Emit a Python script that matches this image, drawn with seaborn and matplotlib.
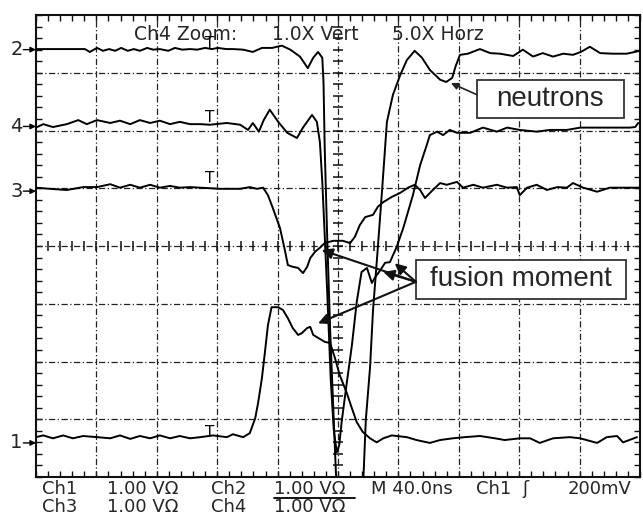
import numpy as np
import pandas as pd
import matplotlib
matplotlib.use("Agg")
import matplotlib.pyplot as plt
import seaborn as sns
from matplotlib.patches import Rectangle

# ---------------- data (screen divisions: x 0..10, y -4..4) ----------------
ch2_x = [0, 0.40, 0.81, 0.89, 1.01, 1.11, 1.21, 1.31, 1.41, 1.52, 1.62, 1.72, 1.84, 1.94, 2.05,
         2.19, 2.30, 2.42, 2.55, 2.67, 2.80, 2.91, 3.01, 3.15, 3.26, 3.43, 3.59, 3.74, 3.91, 4.07,
         4.21, 4.37, 4.50, 4.59, 4.67, 4.74, 4.76, 4.78, 4.82, 4.87, 4.93, 4.98, 5.20, 5.41, 5.46,
         5.53, 5.58, 5.65, 5.73, 5.81, 5.91, 6.03, 6.14, 6.27, 6.39, 6.52, 6.69, 6.79, 6.89, 6.95,
         7.02, 7.15, 7.35, 7.52, 7.68, 7.90, 8.06, 8.23, 8.39, 8.56, 8.73, 8.89, 9.02, 9.17, 9.34,
         9.55, 9.78, 10.0]
ch2_y = [3.41, 3.41, 3.41, 3.36, 3.43, 3.38, 3.41, 3.38, 3.43, 3.38, 3.41, 3.38, 3.43, 3.40, 3.41,
         3.38, 3.43, 3.40, 3.41, 3.40, 3.43, 3.41, 3.43, 3.41, 3.41, 3.40, 3.36, 3.43, 3.43, 3.47,
         3.40, 3.28, 3.08, 3.26, 3.36, 3.26, 2.84, 1.70, 0.19, -1.46, -3.02, -4.3, -4.3, -4.3, -3.02,
         -2.11, -1.11, -0.16, 0.97, 2.15, 2.62, 2.96, 3.22, 3.38, 3.26, 3.05, 2.88, 2.84, 2.91, 3.12,
         3.31, 3.33, 3.41, 3.34, 3.33, 3.29, 3.40, 3.28, 3.34, 3.28, 3.33, 3.31, 3.36, 3.45, 3.34,
         3.33, 3.33, 3.38]

ch4_x = [0, 0.12, 0.28, 0.51, 0.70, 0.84, 1.01, 1.23, 1.39, 1.56, 1.72, 1.89, 2.05, 2.22, 2.38,
         2.55, 2.72, 2.88, 3.16, 3.38, 3.51, 3.59, 3.69, 3.77, 3.87, 4.01, 4.16, 4.32, 4.42, 4.57,
         4.65, 4.70, 4.74, 4.77, 4.82, 4.88, 4.93, 4.98, 5.02, 5.06, 5.14, 5.23, 5.31, 5.39, 5.48,
         5.56, 5.61, 5.70, 5.78, 5.86, 5.91, 5.97, 6.08, 6.24, 6.36, 6.47, 6.52, 6.64, 6.74, 6.85,
         6.97, 7.19, 7.40, 7.63, 7.80, 8.01, 8.29, 8.51, 8.79, 9.01, 9.34, 9.55, 9.83, 9.92, 9.97]
ch4_y = [2.05, 2.11, 2.06, 2.11, 2.18, 2.11, 2.18, 2.13, 2.17, 2.11, 2.18, 2.13, 2.17, 2.11, 2.15,
         2.11, 2.11, 2.10, 2.13, 2.10, 2.01, 2.13, 1.98, 2.18, 2.36, 2.15, 1.96, 1.87, 2.05, 2.27,
         2.15, 1.80, 1.11, 0.42, -0.76, -2.32, -3.19, -3.57, -3.45, -3.05, -2.41, -1.72, -0.97, -0.45, -0.38,
         -0.64, -0.55, -0.42, -0.29, -0.28, -0.16, -0.02, 0.31, 0.88, 1.40, 1.75, 1.92, 1.98, 1.92, 2.01,
         1.96, 1.96, 2.05, 1.98, 2.05, 2.01, 1.98, 2.01, 2.01, 2.05, 2.05, 2.05, 2.05, 2.06, 2.13]

ch3_x = [0, 0.23, 0.51, 0.78, 1.01, 1.23, 1.39, 1.56, 1.72, 1.89, 2.05, 2.22, 2.38, 2.55, 2.72,
         3.05, 3.38, 3.54, 3.66, 3.76, 3.84, 3.92, 4.04, 4.12, 4.17, 4.25, 4.34, 4.42, 4.49, 4.54,
         4.62, 4.70, 4.78, 4.92, 5.08, 5.20, 5.28, 5.36, 5.45, 5.58, 5.66, 5.75, 5.89, 6.03, 6.16,
         6.27, 6.36, 6.44, 6.57, 6.69, 6.80, 6.97, 7.07, 7.24, 7.40, 7.63, 7.80, 7.96, 8.01, 8.13,
         8.29, 8.46, 8.63, 8.79, 8.89, 9.06, 9.29, 9.50, 9.72, 10.0]
ch3_y = [1.01, 0.99, 0.97, 1.02, 1.02, 1.07, 1.01, 1.06, 1.01, 1.06, 1.01, 1.04, 1.01, 1.02, 1.01,
         0.99, 0.99, 1.02, 0.99, 1.01, 0.88, 0.66, 0.31, -0.07, -0.33, -0.36, -0.38, -0.47, -0.36, -0.21,
         -0.10, -0.03, 0.05, 0.09, 0.09, 0.05, 0.16, 0.36, 0.50, 0.54, 0.68, 0.76, 0.85, 0.92, 1.01,
         1.06, 0.97, 0.83, 0.97, 1.09, 1.06, 1.11, 1.01, 1.06, 1.01, 1.06, 1.01, 1.02, 0.88, 1.01,
         1.06, 0.97, 1.02, 1.01, 1.09, 1.01, 0.94, 1.01, 1.01, 1.01]

ch1_x = [0, 0.12, 0.28, 0.45, 0.61, 0.78, 1.01, 1.23, 1.39, 1.56, 1.72, 1.89, 2.05, 2.22, 2.38,
         2.55, 2.72, 2.93, 3.16, 3.26, 3.43, 3.54, 3.63, 3.68, 3.74, 3.79, 3.84, 3.90, 4.01, 4.09,
         4.17, 4.25, 4.34, 4.40, 4.49, 4.54, 4.59, 4.67, 4.78, 4.87, 4.95, 5.03, 5.14, 5.23, 5.31,
         5.41, 5.53, 5.64, 5.75, 5.89, 6.14, 6.30, 6.52, 6.69, 6.90, 7.10, 7.35, 7.60, 7.76, 8.01,
         8.18, 8.34, 8.56, 8.84, 9.01, 9.29, 9.45, 9.62, 9.72, 9.95]
ch1_y = [-3.31, -3.28, -3.33, -3.28, -3.33, -3.29, -3.31, -3.33, -3.28, -3.34, -3.29, -3.33, -3.28, -3.33, -3.29,
         -3.33, -3.31, -3.28, -3.31, -3.26, -3.31, -3.24, -2.98, -2.70, -2.29, -1.84, -1.37, -1.06, -1.06, -1.11,
         -1.25, -1.42, -1.54, -1.51, -1.42, -1.40, -1.54, -1.59, -1.66, -1.68, -1.94, -2.24, -2.53, -2.81, -3.05,
         -3.22, -3.33, -3.40, -3.33, -3.28, -3.31, -3.36, -3.41, -3.36, -3.33, -3.31, -3.29, -3.33, -3.36, -3.33,
         -3.33, -3.41, -3.33, -3.31, -3.33, -3.41, -3.31, -3.29, -3.40, -3.31]

channel_labels = ["2", "4", "3", "1"]
channel_levels = [3.40, 2.07, 0.95, -3.41]
trigger_marks = [3.43, 2.15, 1.09, -3.31]

header_texts = ["Ch4 Zoom:", "1.0X Vert", "5.0X Horz"]
footer_row1 = ["Ch1", "1.00 V\u03a9", "Ch2", "1.00 V\u03a9", "M 40.0ns", "Ch1", "\u0283", "200mV"]
footer_row2 = ["Ch3", "1.00 V\u03a9", "Ch4", "1.00 V\u03a9"]

# ---------------- figure ----------------
sns.set_style("white")
plt.rcParams["font.family"] = ["DejaVu Sans"]

W, H = 643, 518
fig = plt.figure(figsize=(W / 100, H / 100), dpi=100)
ax = fig.add_axes([36 / W, 1 - 477 / H, 604 / W, 462 / H])
ax.set_xlim(0, 10)
ax.set_ylim(-4, 4)

# graticule
for k in range(1, 10):
    ax.axvline(k, color="#222222", lw=0.9, ls=(0, (5, 2, 1, 2)), zorder=1)
for k in range(-3, 4):
    ax.axhline(k, color="#222222", lw=0.9, ls=(0, (5, 2, 1, 2)), zorder=1)

ax.set_xticks(np.arange(0, 10.01, 0.2), minor=True)
ax.set_yticks(np.arange(-4, 4.01, 0.2), minor=True)
ax.set_xticks([])
ax.set_yticks([])
ax.tick_params(which="minor", direction="in", length=4, width=1.0, color="#111111",
               top=True, bottom=True, left=True, right=True,
               labelbottom=False, labelleft=False)
for s in ax.spines.values():
    s.set_color("#111111")
    s.set_linewidth(1.5)

# center cross ticks
cx = np.arange(0.2, 10, 0.2)
cy = np.arange(-3.8, 4, 0.2)
ax.plot(cx, np.zeros_like(cx), ls="none", marker="|", ms=7, mew=1.1, color="#111111", zorder=1)
ax.plot(np.full_like(cy, 5.0), cy, ls="none", marker="_", ms=7, mew=1.1, color="#111111", zorder=1)

# traces
for xs, ys in [(ch2_x, ch2_y), (ch4_x, ch4_y), (ch3_x, ch3_y), (ch1_x, ch1_y)]:
    df = pd.DataFrame({"t": xs, "v": ys})
    sns.lineplot(data=df, x="t", y="v", sort=False, estimator=None, color="black",
                 lw=1.4, ax=ax, zorder=3)
ax.set_xlabel("")
ax.set_ylabel("")

# trigger "T" markers
for lvl in trigger_marks:
    ax.text(2.88, lvl, "T", fontsize=11, ha="center", va="baseline", color="black", zorder=4)

# channel level labels with arrows
for lab, lvl in zip(channel_labels, channel_levels):
    ax.text(-0.22, lvl, lab, fontsize=14, ha="right", va="center", clip_on=False)
    ax.annotate("", xy=(0.0, lvl), xytext=(-0.21, lvl), xycoords="data",
                arrowprops=dict(arrowstyle="-|>", color="black", lw=1.0, mutation_scale=8,
                                shrinkA=0, shrinkB=0), annotation_clip=False)

# header
ax.text(1.62, 3.67, header_texts[0], fontsize=13.5, ha="left", va="center")
ax.text(3.91, 3.67, header_texts[1], fontsize=13.5, ha="left", va="center")
ax.text(5.89, 3.67, header_texts[2], fontsize=13.5, ha="left", va="center")

# footer
row1_x = [42, 107, 211, 274, 371, 476, 522, 568]
row2_x = [42, 107, 211, 274]
for txt, px in zip(footer_row1, row1_x):
    fig.text(px / W, 1 - 489 / H, txt, fontsize=13, ha="left", va="center")
for txt, px in zip(footer_row2, row2_x):
    fig.text(px / W, 1 - 507 / H, txt, fontsize=13, ha="left", va="center")
fig.add_artist(plt.Line2D([274 / W, 355 / W], [1 - 498 / H, 1 - 498 / H], color="black", lw=1.3))

# annotation: neutrons
ax.add_patch(Rectangle((7.30, 2.22), 2.43, 0.66, facecolor="white", edgecolor="#333333",
                       lw=1.3, zorder=5))
ax.text(8.51, 2.55, "neutrons", fontsize=20, family="Liberation Sans", ha="center",
        va="center", zorder=6)
ax.annotate("", xy=(6.87, 2.82), xytext=(7.30, 2.62),
            arrowprops=dict(arrowstyle="-|>", color="#222222", lw=1.2, mutation_scale=10,
                            shrinkA=0, shrinkB=0), zorder=6)

# annotation: fusion moment
ax.add_patch(Rectangle((6.29, -0.92), 3.48, 0.68, facecolor="white", edgecolor="#333333",
                       lw=1.3, zorder=5))
ax.text(8.03, -0.58, "fusion moment", fontsize=20, family="Liberation Sans", ha="center",
        va="center", zorder=6)
for tip in [(4.73, -0.07), (4.67, -1.34), (5.75, -0.45), (5.94, -0.30)]:
    ax.annotate("", xy=tip, xytext=(6.29, -0.62),
                arrowprops=dict(arrowstyle="-|>", color="#111111", lw=1.5, mutation_scale=16,
                                shrinkA=0, shrinkB=0), zorder=6)

fig.savefig("out.png", dpi=100)
